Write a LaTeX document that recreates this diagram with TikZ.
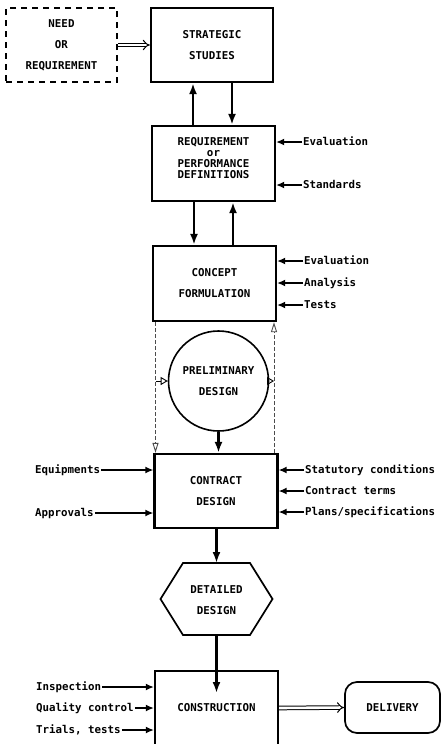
\documentclass[tikz,border=0pt]{standalone}
\usepackage{fontspec}
\setmonofont{DejaVu Sans Mono}
\usetikzlibrary{arrows.meta,calc}
\begin{document}
\begin{tikzpicture}[x=1pt,y=-1pt,
  every node/.style={font=\fontsize{10.8}{21}\selectfont\ttfamily\bfseries},
  box/.style={draw,line width=2.3pt,minimum width=123pt,minimum height=74pt,align=center,inner sep=0pt},
  lab/.style={inner sep=1pt,text height=7pt,text depth=0pt,font=\fontsize{10.8}{12}\selectfont\ttfamily\bfseries},
  sarr/.style={line width=1.4pt,-{Latex[length=8pt,width=7pt]}},
  marr/.style={line width=2.6pt,-{Latex[length=11pt,width=8pt]}},
  darr/.style={dash pattern=on 4pt off 2pt,line width=0.9pt,black!70,-{Triangle[open,length=10pt,width=6pt,line width=0.9pt]}},
  tarr/.style={line width=0.9pt,-{Triangle[open,length=7pt,width=8pt,line width=0.9pt]}},
  dbl/.style={double,double distance=2.6pt,line width=1pt,-{Implies[length=8pt]}}
]
\useasboundingbox (0,0) rectangle (441,744);

% main boxes
\node[box,dash pattern=on 6pt off 5pt,minimum width=111pt] (need) at (61.5,45) {NEED\\OR\\REQUIREMENT};
\node[box,minimum width=122pt] (strat) at (212,45) {STRATEGIC\\STUDIES};
\node[box,minimum height=75pt] (req) at (213.5,163.5) {};
\node[align=center,inner sep=0pt,font=\fontsize{10.8}{11}\selectfont\ttfamily\bfseries,yshift=5pt] (reqt) at (req.center) {REQUIREMENT\\or\\PERFORMANCE\\DEFINITIONS};
\node[box,minimum height=75pt] (cf) at (214.5,283.5) {CONCEPT\\FORMULATION};
\node[draw,circle,line width=1.6pt,minimum size=100pt,inner sep=0pt,align=center] (prel) at (218.5,381) {PRELIMINARY\\DESIGN};
\node[box] (cd) at (216,491) {CONTRACT\\DESIGN};
\node[align=center,inner sep=0pt] (det) at (216.5,600) {DETAILED\\DESIGN};
\coordinate (dettop) at ($(det)+(0,-37)$);
\coordinate (detbot) at ($(det)+(0,35)$);
\draw[line width=1.7pt] ($(det)+(-33.5,-37)$) -- ($(det)+(33.5,-37)$) -- ($(det)+(56,-1)$) -- ($(det)+(33.5,35)$) -- ($(det)+(-33.5,35)$) -- ($(det)+(-56,-1)$) -- cycle;
\node[box] (con) at (216.5,708) {CONSTRUCTION};
\coordinate (conin) at (216.5,693);
\node[draw,line width=1.7pt,rounded corners=12pt,minimum width=95pt,minimum height=51pt] (del) at (392.5,707.5) {DELIVERY};

% double arrows
\draw[dbl] (need.east) -- (strat.west);
\draw[dbl] (con.east) -- (del.west);

% main vertical arrows
\coordinate (a1) at (193,0);
\coordinate (a2) at (232,0);
\draw[marr] (a1 |- req.north) -- (a1 |- strat.south);
\draw[marr] (a2 |- strat.south) -- (a2 |- req.north);
\coordinate (b1) at (194,0);
\coordinate (b2) at (233,0);
\draw[marr] (b1 |- req.south) -- (b1 |- cf.north);
\draw[marr] (b2 |- cf.north) -- (b2 |- req.south);
\draw[marr] (prel.south) -- (prel.south |- cd.north);
\draw[marr] (dettop |- cd.south) -- (dettop);
\draw[marr] (detbot) -- (conin);

% dashed feedback lines
\coordinate (dl) at (155.5,0);
\coordinate (dr) at (274,0);
\draw[darr] (dl |- cf.south) -- (dl |- cd.north);
\draw[darr] (dr |- cd.north) -- (dr |- cf.south);
\draw[tarr] (dl |- prel.west) -- (prel.west);
\draw[tarr] (prel.east) -- (dr |- prel.east);

% right-hand inputs
\node[lab,anchor=west] (r1) at (302,142) {Evaluation};
\node[lab,anchor=west] (r2) at (302,185) {Standards};
\draw[sarr] (r1.west) -- (r1.west -| req.east);
\draw[sarr] (r2.west) -- (r2.west -| req.east);
\node[lab,anchor=west] (r3) at (303,261) {Evaluation};
\node[lab,anchor=west] (r4) at (303,283) {Analysis};
\node[lab,anchor=west] (r5) at (303,305) {Tests};
\draw[sarr] (r3.west) -- (r3.west -| cf.east);
\draw[sarr] (r4.west) -- (r4.west -| cf.east);
\draw[sarr] (r5.west) -- (r5.west -| cf.east);
\node[lab,anchor=west] (r6) at (304,470) {Statutory conditions};
\node[lab,anchor=west] (r7) at (304,491) {Contract terms};
\node[lab,anchor=west] (r8) at (304,512) {Plans/specifications};
\draw[sarr] (r6.west) -- (r6.west -| cd.east);
\draw[sarr] (r7.west) -- (r7.west -| cd.east);
\draw[sarr] (r8.west) -- (r8.west -| cd.east);

% left-hand inputs
\node[lab,anchor=west] (l1) at (34,470) {Equipments};
\node[lab,anchor=west] (l2) at (34,513) {Approvals};
\draw[sarr] (l1.east) -- (l1.east -| cd.west);
\draw[sarr] (l2.east) -- (l2.east -| cd.west);
\node[lab,anchor=west] (l3) at (35,687) {Inspection};
\node[lab,anchor=west] (l4) at (35,708) {Quality control};
\node[lab,anchor=west] (l5) at (35,730) {Trials, tests};
\draw[sarr] (l3.east) -- (l3.east -| con.west);
\draw[sarr] (l4.east) -- (l4.east -| con.west);
\draw[sarr] (l5.east) -- (l5.east -| con.west);
\end{tikzpicture}
\end{document}
